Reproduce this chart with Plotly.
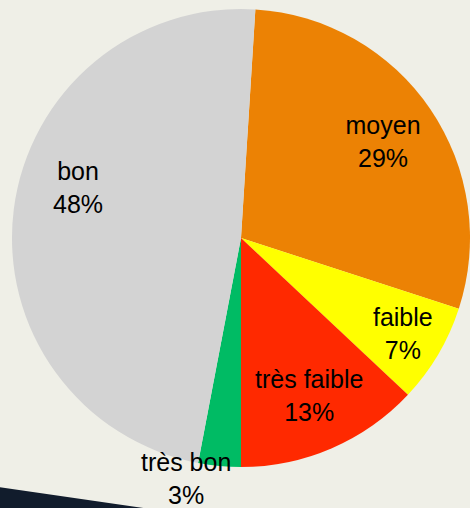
import plotly.graph_objects as go

labels = ["moyen", "faible", "très faible", "très bon", "bon"]
values = [29, 7, 13, 3, 48]
colors = ["#EC8204", "#FFFF00", "#FF2900", "#00BB64", "#D3D3D3"]
text_pos = ["inside", "inside", "inside", "none", "none"]
# label anchors (paper fraction) for the two labels placed as annotations
ann_points = {"très bon": (0.396, 0.059), "bon": (0.166, 0.630)}

dom = dict(x=[0.0255, 1.0], y=[0.079, 0.984])
font = dict(family="Liberation Sans, Arial, sans-serif", size=25, color="black")

fig = go.Figure()
fig.add_trace(go.Pie(
    labels=labels, values=values, sort=False, direction="clockwise",
    rotation=3.6,
    marker=dict(colors=colors, line=dict(width=0)),
    textinfo="none", domain=dom, showlegend=False,
    hoverinfo="label+percent",
))
fig.add_trace(go.Pie(
    labels=labels, values=values, sort=False, direction="clockwise",
    rotation=3.6, hole=0.5,
    marker=dict(colors=["rgba(0,0,0,0)"] * 5, line=dict(width=0)),
    textinfo="label+percent", textposition=text_pos,
    insidetextorientation="horizontal",
    textfont=font,
    domain=dom, showlegend=False, hoverinfo="skip",
))

total = sum(values)
annotations = []
for lab, val in zip(labels, values):
    if lab in ann_points:
        x, y = ann_points[lab]
        annotations.append(dict(
            x=x, y=y, xref="paper", yref="paper", showarrow=False,
            text=f"{lab}<br>{round(100 * val / total)}%", font=font,
            xanchor="center", yanchor="middle",
        ))

fig.update_layout(
    width=470, height=508,
    margin=dict(l=0, r=0, t=0, b=0),
    paper_bgcolor="#EFEFE7",
    plot_bgcolor="#EFEFE7",
    uniformtext=dict(minsize=25, mode="show"),
    annotations=annotations,
    shapes=[dict(type="path", xref="paper", yref="paper",
                 path="M 0 0.041 L 0.305 0 L 0 0 Z",
                 fillcolor="#111C2C", line=dict(width=0), layer="below")],
)

fig.write_html("out.html", config={"displayModeBar": False},
               post_script="document.body.style.margin='0';document.body.style.background='#EFEFE7';")
